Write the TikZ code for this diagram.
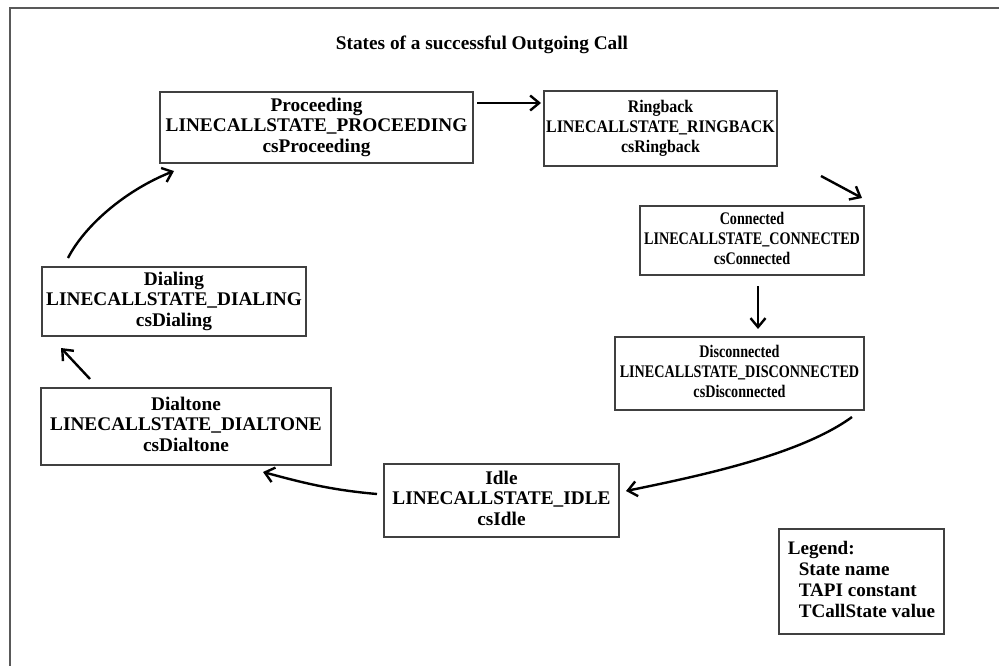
\documentclass[tikz,border=0pt]{standalone}
\usepackage{fontspec}
\setmainfont{Liberation Serif}
\usepackage{graphicx}
\usetikzlibrary{arrows.meta,calc}

% three centred lines, optionally squeezed horizontally
\newcommand\statelines[4]{\scalebox{#1}[1]{\begin{tabular}{@{}c@{}}#2\\#3\\#4\end{tabular}}}

\begin{document}
\begin{tikzpicture}[x=1pt,y=-1pt,
  statebox/.style={draw=black!75, line width=1.3pt, inner sep=0pt, outer sep=0pt, fill=white},
  bigtext/.style={font=\fontsize{19.3}{20.5}\selectfont\bfseries},
  smalltext/.style={font=\fontsize{17.7}{20}\selectfont\bfseries},
  flow/.style={line width=2.4pt, -{Straight Barb[length=9pt,width=15pt]}},
]
\useasboundingbox (0,0) rectangle (999,666);
\draw[black!65, line width=2pt] (10,666) -- (10,8) -- (999,8);

\node[bigtext] (title) at (482,45) {States of a successful Outgoing Call};

% states
\node[statebox, bigtext, minimum width=313pt, minimum height=71pt] (proc) at (316.5,127.5)
  {\statelines{1}{Proceeding}{LINECALLSTATE\_PROCEEDING}{csProceeding}};
\node[statebox, smalltext, minimum width=233pt, minimum height=75pt] (ring) at (660.5,128.5)
  {\statelines{0.9}{Ringback}{LINECALLSTATE\_RINGBACK}{csRingback}};
\node[statebox, smalltext, minimum width=224pt, minimum height=69pt] (conn) at (752,240.5)
  {\statelines{0.8}{Connected}{LINECALLSTATE\_CONNECTED}{csConnected}};
\node[statebox, smalltext, minimum width=249pt, minimum height=73pt] (disc) at (739.5,373.5)
  {\statelines{0.8}{Disconnected}{LINECALLSTATE\_DISCONNECTED}{csDisconnected}};
\node[statebox, bigtext, minimum width=235pt, minimum height=73pt] (idle) at (501.5,500.5)
  {\statelines{1}{Idle}{LINECALLSTATE\_IDLE}{csIdle}};
\node[statebox, bigtext, minimum width=290pt, minimum height=77pt] (dialtone) at (186,426.5)
  {\statelines{1}{Dialtone}{LINECALLSTATE\_DIALTONE}{csDialtone}};
\node[statebox, bigtext, minimum width=264pt, minimum height=69pt] (dialing) at (174,301.5)
  {\statelines{1}{Dialing}{LINECALLSTATE\_DIALING}{csDialing}};

% legend
\node[statebox, font=\fontsize{19.1}{21}\selectfont\bfseries, minimum width=165pt, minimum height=105pt]
  (legend) at (861.5,581.5)
  {\begin{tabular}{@{}l@{}}Legend:\\\hspace*{11pt}State name\\\hspace*{11pt}TAPI constant\\\hspace*{11pt}TCallState value\end{tabular}};

% transitions
\draw[flow] ($(proc.north east)+(4,11)$) -- ($(ring.north west)+(-3,12)$);
\draw[flow] ($(ring.south east)+(44,10)$) -- ($(conn.north east)+(-2,-8)$);
\draw[flow] ($(conn.south)+(6,11)$) -- ($(disc.north)+(18.5,-8)$);
\draw[flow] ($(disc.south east)+(-12,7)$) .. controls +(-52,38) and +(73,-15) .. ($(idle.north east)+(7,27)$);
\draw[flow] ($(idle.west)+(-7,-6.5)$) .. controls +(-47,-4) and +(37,10) .. ($(dialtone.south east)+(-68,7)$);
\draw[flow] ($(dialtone.north west)+(49,-9)$) -- ($(dialing.south west)+(19,12)$);
\draw[flow] ($(dialing.north west)+(26,-9)$) .. controls +(17,-33) and +(-48,19) .. ($(proc.south west)+(14,8)$);
\end{tikzpicture}
\end{document}
